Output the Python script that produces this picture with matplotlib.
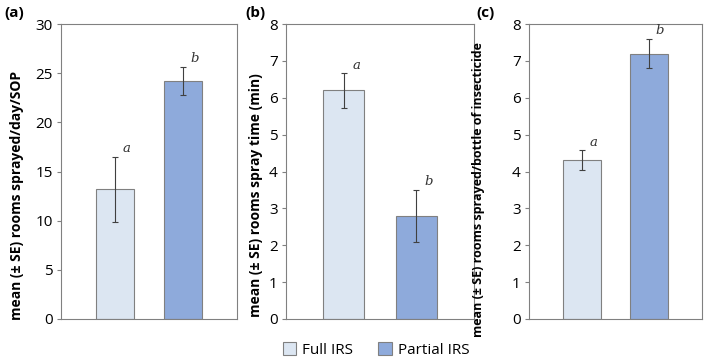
import matplotlib.pyplot as plt
from matplotlib.patches import Patch

# data
groups = ['Full IRS', 'Partial IRS']
rooms_day = [13.2, 24.2]
rooms_day_se = [3.3, 1.45]
spray_time = [6.2, 2.8]
spray_time_se = [0.47, 0.7]
rooms_bottle = [4.3, 7.2]
rooms_bottle_se = [0.27, 0.4]
letters_a = ['a', 'b']
letters_b = ['a', 'b']
letters_c = ['a', 'b']

colors = ['#dce6f2', '#8eaadb']
edge = '#808080'

plt.rcParams['font.family'] = ['Open Sans', 'DejaVu Sans']

fig = plt.figure(figsize=(7.08, 3.64), dpi=100)

# label, values, se, letters, ylabel, ylim, yticks, axes x-span, ylabel x, ylabel y, ylabel size, panel label x
panels = [
    ('(a)', rooms_day, rooms_day_se, letters_a, 'mean (± SE) rooms sprayed/day/SOP',
     (0, 30), range(0, 31, 5), [61, 237], 17, 195, 10, 4),
    ('(b)', spray_time, spray_time_se, letters_b, 'mean (± SE) rooms spray time (min)',
     (0, 8), range(0, 9), [286, 474], 256, 195, 10, 245),
    ('(c)', rooms_bottle, rooms_bottle_se, letters_c, 'mean (± SE) rooms sprayed/bottle of insecticide',
     (0, 8), range(0, 9), [529, 702], 478, 190, 9, 476),
]

W, H = 708, 364
top, bottom = 24, 319
for lab, vals, se, lets, ylab, ylim, yt, (x0, x1), ylx, yly, ylfs, labx in panels:
    ax = fig.add_axes([x0 / W, 1 - bottom / H, (x1 - x0) / W, (bottom - top) / H])
    x = range(len(vals))
    ax.bar(x, vals, width=0.57, color=colors, edgecolor=edge, linewidth=0.8, zorder=2)
    ax.errorbar(x, vals, yerr=se, fmt='none', ecolor='#404040', elinewidth=0.8,
                capsize=2.5, capthick=0.8, zorder=3)
    for i in x:
        ax.text(i + 0.17, vals[i] + se[i] + ylim[1] * 0.005, lets[i], fontstyle='italic',
                family='DejaVu Serif', fontsize=9.5, ha='center', va='bottom', color='#333333')
    ax.set_xlim(-0.8, 1.8)
    ax.set_ylim(*ylim)
    ax.set_yticks(list(yt))
    ax.set_xticks([])
    ax.tick_params(axis='y', labelsize=11, length=3, color=edge, pad=3)
    for s in ax.spines.values():
        s.set_color(edge)
        s.set_linewidth(0.8)
    fig.text(ylx / W, 1 - yly / H, ylab, rotation=90, ha='center', va='center',
             fontsize=ylfs, fontweight='bold')
    fig.text(labx / W, 1 - 13 / H, lab, ha='left', va='center', fontsize=11, fontweight='bold')

handles = [Patch(facecolor=c, edgecolor=edge, linewidth=0.8) for c in colors]
fig.legend(handles, groups, loc='center', bbox_to_anchor=(376 / W, 1 - 350 / H), ncol=2,
           frameon=False, fontsize=11, handlelength=0.9, handleheight=0.9,
           handletextpad=0.4, columnspacing=1.6)

fig.savefig('out.png', dpi=100)
